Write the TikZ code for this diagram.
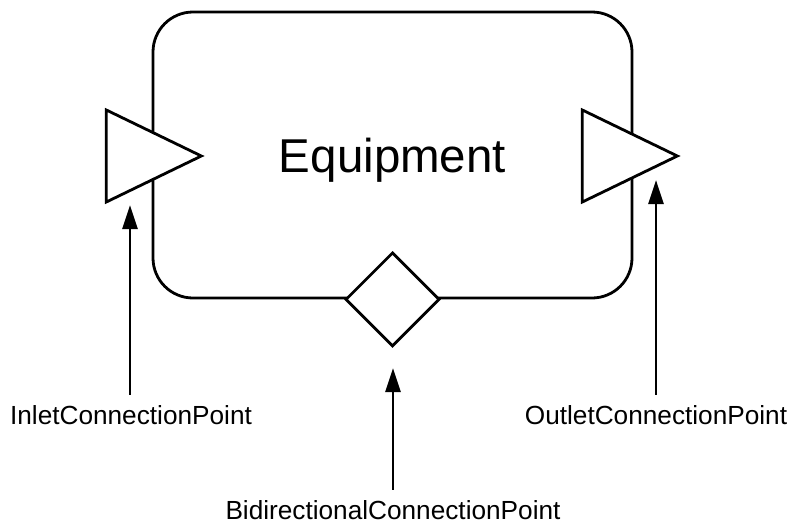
\documentclass[tikz,border=0pt]{standalone}
\usepackage{fontspec}
\setmainfont{Liberation Sans}
\usepackage{tikz}
\usetikzlibrary{arrows.meta}
\usetikzlibrary{positioning}
\usetikzlibrary{shapes.geometric}

\begin{document}
\begin{tikzpicture}
[
	x = 1pt, y = -1pt,
	equip/.style	= {draw, line width = 2.8pt, rounded corners = 40pt, minimum width = 479pt, minimum height = 286pt, text depth = 0pt, font = \fontsize{47.5}{50}\selectfont},
	port/.style	= {isosceles triangle, isosceles triangle stretches, draw, fill = white, line width = 2.8pt, inner sep = 0pt, minimum width = 92pt, minimum height = 95pt},
	bidir/.style	= {diamond, draw, fill = white, line width = 2.8pt, inner sep = 0pt, minimum size = 94pt},
	pointname/.style	= {anchor = base, inner sep = 0pt, font = \fontsize{26.2}{28}\selectfont},
	arr/.style	= {-{Triangle[length = 24pt, width = 15pt]}, line width = 2.8pt},
]

	\useasboundingbox (0,0) rectangle (793,525);

	\node (equip) [equip] at (392.5,155) {Equipment};
	%
	\node (inlet) [port, anchor = apex] at (205,156) {};
	\node (outlet) [port, anchor = apex] at (681,156) {};
	\node (bidi) [bidir] at (equip.south) {};
	%
	\node (inletname) [pointname] at (131,424) {InletConnectionPoint};
	\node (outletname) [pointname] at (656,424) {OutletConnectionPoint};
	\node (bidiname) [pointname] at (393,519) {BidirectionalConnectionPoint};
	%
	\coordinate (inlettip) at (130,205);
	\coordinate (outlettip) at (656,180);
	\coordinate (biditip) at (393,368);

	\draw [arr] (inletname.north -| inlettip) ++(0,-10) -- (inlettip);
	\draw [arr] (outletname.north -| outlettip) ++(0,-10) -- (outlettip);
	\draw [arr] (bidiname.north -| biditip) ++(0,-10) -- (biditip);

\end{tikzpicture}
\end{document}
